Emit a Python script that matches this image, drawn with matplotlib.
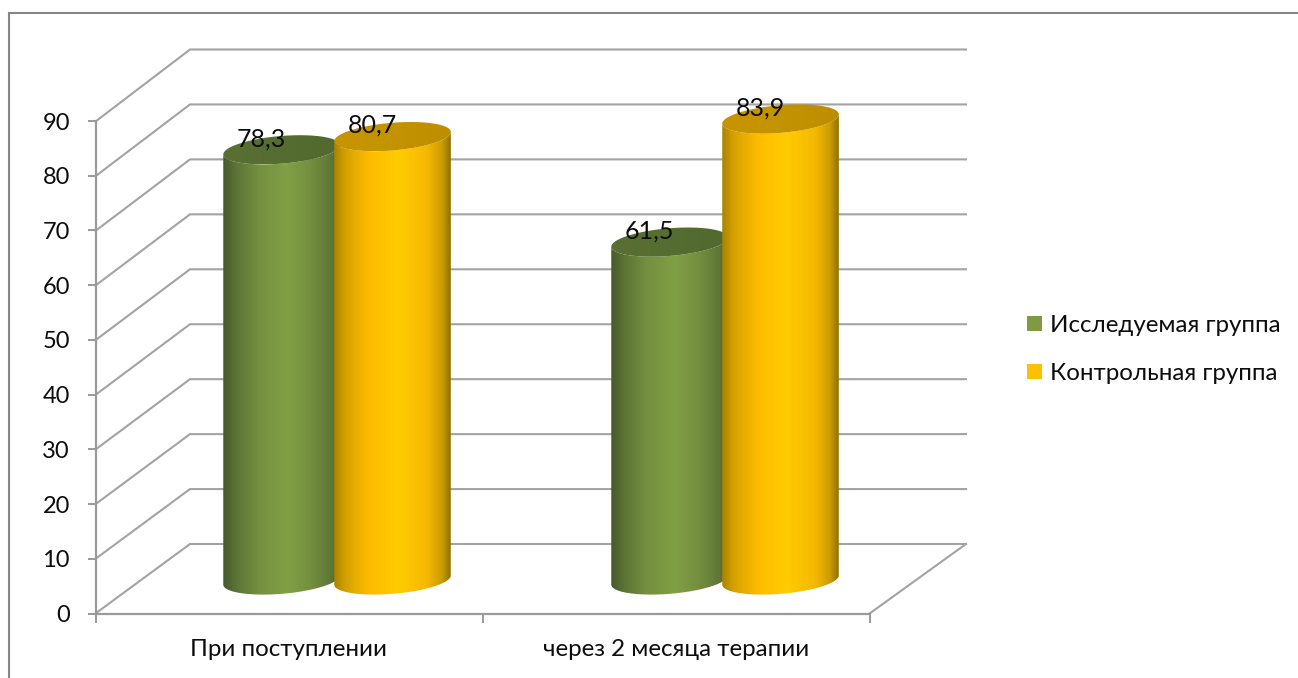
import numpy as np
import matplotlib
matplotlib.use("Agg")
import matplotlib.pyplot as plt
from matplotlib.patches import Patch, PathPatch
from matplotlib.path import Path
from matplotlib.colors import LinearSegmentedColormap

plt.rcParams['font.family'] = ['Lato', 'Noto Sans', 'DejaVu Sans']

categories = ["При поступлении", "через 2 месяца терапии"]
series_names = ["Исследуемая группа", "Контрольная группа"]
study_values = [78.3, 61.5]
control_values = [80.7, 83.9]
value_labels_study = ["78,3", "61,5"]
value_labels_control = ["80,7", "83,9"]
y_ticks = list(range(0, 100, 10))

W, H = 1298, 678
fig = plt.figure(figsize=(W / 100, H / 100), dpi=100, facecolor="white")


def box(x0, ytop, x1, ybot):
    return [x0 / W, 1 - ybot / H, (x1 - x0) / W, (ybot - ytop) / H]


GRID = "#a3a3a3"
AXC = "#9a9a9a"
TXT = "#0d0d0d"

# outer chart frame
bg = fig.add_axes([0, 0, 1, 1], zorder=0)
bg.set_xlim(0, W)
bg.set_ylim(H, 0)
bg.axis("off")
bg.plot([9, 9, W], [H, 13, 13], color="#868686", lw=1.5, solid_joinstyle="miter")

# back wall axes: data scale for cylinders and gridlines
back = fig.add_axes(box(190, 49.5, 966, 544), zorder=1)
back.set_xlim(0, 2)
back.set_ylim(0, 90)
back.axis("off")
back.patch.set_alpha(0)
PX_X = 776 / 2
PX_Y = 494.5 / 90

# front wall axes: real ticks and labels
front = fig.add_axes(box(95.5, 121, 869.5, 613.5), zorder=2)
front.set_xlim(0, 2)
front.set_ylim(0, 90)
front.patch.set_alpha(0)
for s in ("top", "right"):
    front.spines[s].set_visible(False)
for s in ("left", "bottom"):
    front.spines[s].set_color(AXC)
    front.spines[s].set_linewidth(1.6)
front.set_yticks(y_ticks)
front.tick_params(axis="y", length=6, width=1.4, color=AXC, labelsize=17, labelcolor=TXT, pad=12.5)
front.set_xticks([0, 1, 2])
front.set_xticklabels([])
front.tick_params(axis="x", which="major", length=6.5, width=1.4, color=AXC)
front.set_xticks([0.5, 1.5], minor=True)
front.set_xticklabels(categories, minor=True)
front.tick_params(axis="x", which="minor", length=0, labelsize=17.4, labelcolor=TXT, pad=18.5)

# depth offset of the floor, in back-wall data units
DX = -94.5 / PX_X
DY = -69.5 / PX_Y

for v in y_ticks:
    back.plot([DX, 0, 2], [v * 54.72 / 55 + DY, v, v], color=GRID, lw=1.5,
              clip_on=False, zorder=1, solid_joinstyle="miter")
back.plot([2, 2 + DX * 1.02], [0, DY], color=GRID, lw=1.5, clip_on=False, zorder=1)

# cylinders
A, B = 58.5, 13.8
TILT = np.radians(4.8)
BASE_Y = -36.0 / PX_Y   # centre of the base ellipse in data units


def ellipse(cx, cy, t):
    dx = A * np.cos(t) * np.cos(TILT) - B * np.sin(t) * np.sin(TILT)
    dy = A * np.cos(t) * np.sin(TILT) + B * np.sin(t) * np.cos(TILT)
    return cx + dx / PX_X, cy + dy / PX_Y


green_body = LinearSegmentedColormap.from_list("g", [
    (0, "#47592c"), (0.12, "#5d7535"), (0.3, "#748f3f"), (0.55, "#80a046"),
    (0.75, "#748f3f"), (0.93, "#5e7636"), (1, "#4d6130")])
orange_body = LinearSegmentedColormap.from_list("o", [
    (0, "#a88400"), (0.1, "#d6a200"), (0.3, "#fdbb00"), (0.55, "#ffcc00"),
    (0.8, "#f5b800"), (0.93, "#c99a00"), (1, "#8f7000")])
green_top = LinearSegmentedColormap.from_list("gt", ["#596f33", "#566d31", "#52692f"])
orange_top = LinearSegmentedColormap.from_list("ot", ["#c69500", "#c49300", "#bd8e00"])

GROUP_X = [0.3795, 1.3795]
OFFSET = [-0.1435, 0.1425]


def cylinder(cx, value, body_cmap, top_cmap, z):
    ttop = np.linspace(-np.pi, 0, 80)
    # lower arc of the top ellipse, then back along the lower arc of the base
    x1, y1 = ellipse(cx, value + BASE_Y, ttop)
    x2, y2 = ellipse(cx, BASE_Y, ttop[::-1])
    xs = np.r_[x1, x2]
    ys = np.r_[y1, y2]
    grad = np.linspace(0, 1, 256).reshape(1, -1)
    patch = PathPatch(Path(np.c_[xs, ys]), fc="none", ec="none", transform=back.transData)
    back.add_patch(patch)
    im = back.imshow(grad, extent=[xs.min(), xs.max(), ys.min(), ys.max()], cmap=body_cmap,
                     aspect="auto", zorder=z, interpolation="bilinear")
    im.set_clip_box(fig.bbox)
    im.set_clip_path(patch)
    # top cap
    tall = np.linspace(0, 2 * np.pi, 160)
    cxs, cys = ellipse(cx, value + BASE_Y, tall)
    cap = PathPatch(Path(np.c_[cxs, cys]), fc="none", ec="none", transform=back.transData)
    back.add_patch(cap)
    im2 = back.imshow(grad, extent=[cxs.min(), cxs.max(), cys.min(), cys.max()], cmap=top_cmap,
                      aspect="auto", zorder=z + 0.1, interpolation="bilinear")
    im2.set_clip_box(fig.bbox)
    im2.set_clip_path(cap)


series = [(study_values, green_body, green_top, value_labels_study, 0),
          (control_values, orange_body, orange_top, value_labels_control, 1)]
for gi, gx in enumerate(GROUP_X):
    for values, bc, tc, labs, si in series:
        cylinder(gx + OFFSET[si], values[gi], bc, tc, 3 + si)

for gi, gx in enumerate(GROUP_X):
    for values, bc, tc, labs, si in series:
        cx = gx + OFFSET[si]
        back.annotate(labs[gi], (cx, values[gi] + BASE_Y), xytext=(-14.5, 8),
                      textcoords="offset points", ha="center", va="center",
                      fontsize=18, color=TXT, zorder=10, annotation_clip=False)

back.set_xlim(0, 2)
back.set_ylim(0, 90)

handles = [Patch(fc="#7f9a43", ec="none"), Patch(fc="#ffc000", ec="none")]
fig.legend(handles, series_names, loc="center left", bbox_to_anchor=(1020 / W, 1 - 349.5 / H),
           frameon=False, fontsize=17.4, labelcolor=TXT, handlelength=0.62, handleheight=0.62,
           handletextpad=0.32, labelspacing=1.12, borderpad=0.3, borderaxespad=0)

fig.savefig("out.png", dpi=100, facecolor="white")
